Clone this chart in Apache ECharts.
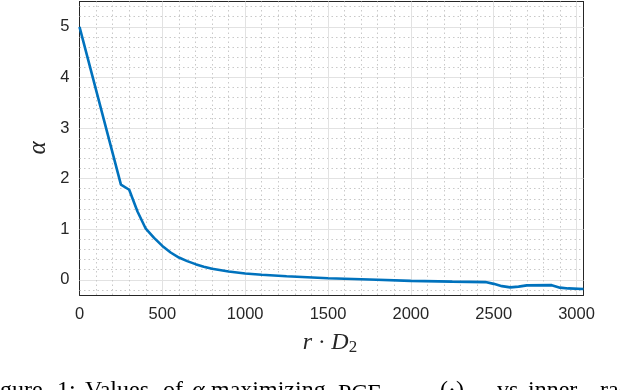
<!DOCTYPE html>
<html>
<head>
<meta charset="utf-8">
<script src="https://cdn.jsdelivr.net/npm/echarts@6/dist/echarts.min.js"></script>
<style>
  html, body { margin: 0; padding: 0; background: #fff; }
  #chartDom { width: 620px; height: 390px; }
</style>
</head>
<body>
<div id="chartDom"></div>
<script>
// r * D2 values and the alpha that maximizes PCE at each
var rD2 = [0, 250, 300, 350, 400, 450, 500, 550, 600, 650, 700, 750, 800, 900, 1000, 1100, 1250, 1500, 1750, 2000, 2250, 2450, 2500, 2550, 2600, 2650, 2700, 2850, 2900, 2950, 3042];
var alphaVals = [5.0, 1.88, 1.78, 1.35, 1.01, 0.83, 0.67, 0.54, 0.44, 0.37, 0.31, 0.26, 0.22, 0.165, 0.125, 0.1, 0.07, 0.03, 0.005, -0.02, -0.035, -0.045, -0.08, -0.125, -0.15, -0.135, -0.11, -0.105, -0.155, -0.17, -0.18];
var xTicks = [0, 500, 1000, 1500, 2000, 2500, 3000];
var yTicks = [0, 1, 2, 3, 4, 5];

var X_MIN = 0, X_MAX = 3042, Y_MIN = -0.3, Y_MAX = 5.5;
var frame = '#262626';
var majorGrid = '#e2e2e2';
var minorGrid = '#c9c9c9';

var chartDom = echarts.init(document.getElementById('chartDom'));

// grid lines drawn as markLines so they sit on the real tick values
var gridLines = [];
yTicks.forEach(function (v) {
    gridLines.push({ yAxis: v, lineStyle: { color: majorGrid, type: 'solid', width: 1 } });
});
for (var i = -1; i <= 27; i++) {
    var v = +(i * 0.2).toFixed(1);
    if (v < Y_MIN || v > Y_MAX || Math.abs(v - Math.round(v)) < 1e-9) continue;
    gridLines.push({ yAxis: v, lineStyle: { color: minorGrid, type: [1.5, 3], width: 1 } });
}
xTicks.forEach(function (v) {
    if (v > 0) gridLines.push({ xAxis: v, lineStyle: { color: majorGrid, type: 'solid', width: 1 } });
});
for (var j = 1; j <= 30; j++) {
    var xv = j * 100;
    if (xv % 500 === 0) continue;
    gridLines.push({ xAxis: xv, lineStyle: { color: minorGrid, type: [1.5, 3], width: 1 } });
}

var sans = 'Liberation Sans';
var serif = 'Liberation Serif';

function axisBase(extra) {
    return Object.assign({
        type: 'value',
        axisLine: { show: true, onZero: false, lineStyle: { color: frame, width: 1 } },
        splitLine: { show: false }
    }, extra);
}
function ticks(vals) {
    return { show: true, inside: true, length: 5, lineStyle: { color: frame }, customValues: vals };
}
function plain(v) { return String(v); }

// caption is justified in the source, so words are placed one by one
var captionWords = [
    ['Figure', -20], ['1:', 57], ['Values', 85], ['of', 163], ['{it|α}', 192], ['maximizing', 211],
    ['PCE{s|α}', 338], ['(·)', 440], ['vs', 497], ['inner', 528], ['radius', 600]
];
var captionGraphics = captionWords.map(function (w) {
    return {
        type: 'text', x: w[1], y: 379,
        style: {
            text: w[0], font: '24px "Liberation Serif"', fill: '#000', verticalAlign: 'top',
            rich: {
                it: { fontFamily: serif, fontStyle: 'italic', fontSize: 24 },
                s: { fontFamily: serif, fontStyle: 'italic', fontSize: 17, padding: [12, 0, 0, 0] }
            }
        }
    };
});

chartDom.setOption({
    animation: false,
    grid: { left: 79.5, right: 36.5, top: 1.5, bottom: 95 },
    xAxis: [
        axisBase({
            min: X_MIN, max: X_MAX, position: 'bottom',
            axisTick: ticks(xTicks),
            axisLabel: { customValues: xTicks, formatter: plain, color: '#262626', fontFamily: sans, fontSize: 16.5, margin: 11 }
        }),
        axisBase({
            min: X_MIN, max: X_MAX, position: 'top',
            axisTick: ticks(xTicks),
            axisLabel: { show: false }
        })
    ],
    yAxis: [
        axisBase({
            min: Y_MIN, max: Y_MAX, position: 'left',
            axisTick: ticks(yTicks),
            axisLabel: { customValues: yTicks, formatter: plain, color: '#262626', fontFamily: sans, fontSize: 16.5, margin: 10 }
        }),
        axisBase({
            min: Y_MIN, max: Y_MAX, position: 'right',
            axisTick: ticks(yTicks),
            axisLabel: { show: false }
        })
    ],
    series: [{
        type: 'line',
        data: rD2.map(function (x, k) { return [x, alphaVals[k]]; }),
        showSymbol: false,
        lineStyle: { color: '#0072BD', width: 2.6 },
        z: 5,
        markLine: {
            silent: true,
            symbol: 'none',
            label: { show: false },
            z: 1,
            data: gridLines
        }
    }],
    graphic: [
        {
            type: 'text', x: 38, y: 148, rotation: Math.PI / 2,
            style: { text: 'α', font: 'italic 25px "Liberation Serif"', fill: '#262626', align: 'center', verticalAlign: 'middle' }
        },
        {
            type: 'text', x: 330, y: 343,
            style: {
                text: '{i|r} · {i|D}{s|2}',
                align: 'center', verticalAlign: 'middle',
                font: '23px "Liberation Serif"', fill: '#262626',
                rich: {
                    i: { fontFamily: serif, fontStyle: 'italic', fontSize: 24, fill: '#262626' },
                    s: { fontFamily: serif, fontSize: 17, fill: '#262626', verticalAlign: 'bottom', padding: [9, 0, 0, 0] }
                }
            }
        }
    ].concat(captionGraphics)
});
</script>
</body>
</html>
